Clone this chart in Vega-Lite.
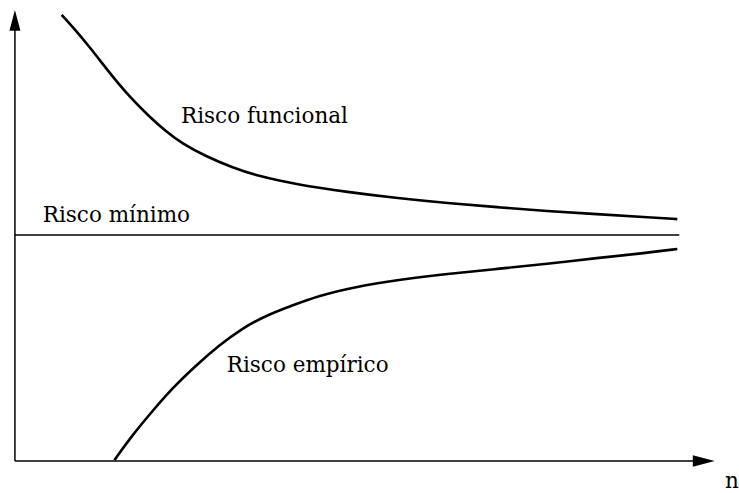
{
  "$schema": "https://vega.github.io/schema/vega-lite/v6.json",
  "width": 739,
  "height": 493,
  "autosize": {"type": "fit", "contains": "padding"},
  "padding": 0,
  "background": "white",
  "config": {"view": {"stroke": null}},
  "datasets": {
    "curves": [
      {"series": "funcional", "n": 47, "r": 448},
      {"series": "funcional", "n": 58, "r": 436},
      {"series": "funcional", "n": 75, "r": 416},
      {"series": "funcional", "n": 95, "r": 390},
      {"series": "funcional", "n": 115, "r": 366},
      {"series": "funcional", "n": 135, "r": 346},
      {"series": "funcional", "n": 152, "r": 331},
      {"series": "funcional", "n": 168, "r": 319},
      {"series": "funcional", "n": 192, "r": 306},
      {"series": "funcional", "n": 218, "r": 295},
      {"series": "funcional", "n": 245, "r": 286},
      {"series": "funcional", "n": 282, "r": 278},
      {"series": "funcional", "n": 335, "r": 270},
      {"series": "funcional", "n": 385, "r": 264},
      {"series": "funcional", "n": 435, "r": 259},
      {"series": "funcional", "n": 485, "r": 255},
      {"series": "funcional", "n": 535, "r": 251},
      {"series": "funcional", "n": 585, "r": 248},
      {"series": "funcional", "n": 635, "r": 245},
      {"series": "funcional", "n": 666, "r": 243},
      {"series": "empirico", "n": 100, "r": 1},
      {"series": "empirico", "n": 118, "r": 26},
      {"series": "empirico", "n": 138, "r": 50},
      {"series": "empirico", "n": 158, "r": 73},
      {"series": "empirico", "n": 182, "r": 96},
      {"series": "empirico", "n": 205, "r": 116},
      {"series": "empirico", "n": 228, "r": 133},
      {"series": "empirico", "n": 252, "r": 146},
      {"series": "empirico", "n": 278, "r": 156},
      {"series": "empirico", "n": 305, "r": 166},
      {"series": "empirico", "n": 342, "r": 175},
      {"series": "empirico", "n": 385, "r": 182},
      {"series": "empirico", "n": 435, "r": 188},
      {"series": "empirico", "n": 485, "r": 193},
      {"series": "empirico", "n": 535, "r": 198},
      {"series": "empirico", "n": 585, "r": 204},
      {"series": "empirico", "n": 635, "r": 209},
      {"series": "empirico", "n": 666, "r": 213}
    ],
    "rules": [
      {"name": "eixo n", "n": 0, "r": 0, "n2": 690, "r2": 0},
      {"name": "eixo risco", "n": 0, "r": 0, "n2": 0, "r2": 436},
      {"name": "Risco mínimo", "n": 0, "r": 227, "n2": 668, "r2": 227}
    ],
    "arrows": [
      {"dir": "up", "n": 0, "r": 442},
      {"dir": "right", "n": 692, "r": 0}
    ],
    "labels": [
      {"text": "Risco funcional", "n": 167, "r": 340},
      {"text": "Risco mínimo", "n": 28, "r": 240},
      {"text": "Risco empírico", "n": 213, "r": 89},
      {"text": "n", "n": 714, "r": -27}
    ]
  },
  "layer": [
    {
      "data": {"name": "rules"},
      "mark": {"type": "rule", "color": "black", "strokeWidth": 1.5},
      "encoding": {
        "x": {"field": "n", "type": "quantitative", "scale": {"domain": [-15, 724], "nice": false, "zero": false}, "axis": null},
        "y": {"field": "r", "type": "quantitative", "scale": {"domain": [-30, 463], "nice": false, "zero": false}, "axis": null},
        "x2": {"field": "n2"},
        "y2": {"field": "r2"}
      }
    },
    {
      "data": {"name": "curves"},
      "mark": {"type": "line", "color": "black", "strokeWidth": 2.6, "interpolate": "basis"},
      "encoding": {
        "x": {"field": "n", "type": "quantitative", "axis": null},
        "y": {"field": "r", "type": "quantitative", "axis": null},
        "detail": {"field": "series"},
        "order": {"field": "n", "type": "quantitative"}
      }
    },
    {
      "data": {"name": "arrows"},
      "transform": [{"filter": "datum.dir === 'up'"}],
      "mark": {"type": "point", "filled": true, "color": "black", "opacity": 1, "size": 484, "shape": "M0,-1L0.5,0.9L-0.5,0.9Z"},
      "encoding": {
        "x": {"field": "n", "type": "quantitative", "axis": null},
        "y": {"field": "r", "type": "quantitative", "axis": null}
      }
    },
    {
      "data": {"name": "arrows"},
      "transform": [{"filter": "datum.dir === 'right'"}],
      "mark": {"type": "point", "filled": true, "color": "black", "opacity": 1, "size": 529, "shape": "M1,0L-0.9,-0.5L-0.9,0.5Z"},
      "encoding": {
        "x": {"field": "n", "type": "quantitative", "axis": null},
        "y": {"field": "r", "type": "quantitative", "axis": null}
      }
    },
    {
      "data": {"name": "labels"},
      "mark": {"type": "text", "align": "left", "baseline": "alphabetic", "font": "DejaVu Serif", "fontSize": 21.5, "color": "black"},
      "encoding": {
        "x": {"field": "n", "type": "quantitative", "axis": null},
        "y": {"field": "r", "type": "quantitative", "axis": null},
        "text": {"field": "text"}
      }
    }
  ]
}
